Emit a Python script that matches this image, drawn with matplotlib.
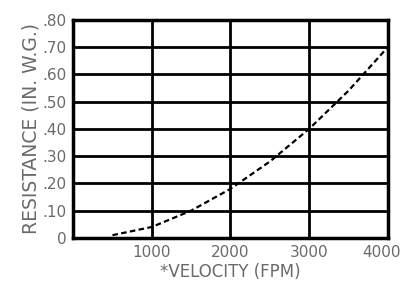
import matplotlib.pyplot as plt
import matplotlib.transforms as mtransforms

# datos
velocity = [500, 1000, 1500, 2000, 2500, 3000, 3500, 4000]
resistance = [0.01, 0.04, 0.10, 0.18, 0.28, 0.40, 0.54, 0.70]

x_ticks = [1000, 2000, 3000, 4000]
x_labels = ["1000", "2000", "3000", "4000"]
y_ticks = [0, 0.1, 0.2, 0.3, 0.4, 0.5, 0.6, 0.7, 0.8]
y_labels = ["0", ".10", ".20", ".30", ".40", ".50", ".60", ".70", ".80"]

TEXT_COLOR = "#6a6a6a"

fig = plt.figure(figsize=(4.04, 2.88), dpi=100)
ax = fig.add_axes([0.181, 0.174, 0.779, 0.757])

ax.plot(velocity, resistance, color="black", linewidth=1.6,
        linestyle=(0, (2.5, 1.5)))

ax.set_xlim(0, 4000)
ax.set_ylim(0, 0.8)
ax.set_xticks(x_ticks)
ax.set_xticklabels(x_labels)
ax.set_yticks(y_ticks)
ax.set_yticklabels(y_labels)

ax.grid(True, color="black", linewidth=2)
for s in ax.spines.values():
    s.set_linewidth(2.5)

ax.tick_params(length=0, pad=5, labelsize=11, colors=TEXT_COLOR)
for lbl in ax.get_xticklabels() + ax.get_yticklabels():
    lbl.set_color(TEXT_COLOR)

# la ultima etiqueta queda pegada al borde, se corre un poco a la izquierda
last = ax.get_xticklabels()[-1]
last.set_transform(last.get_transform() +
                   mtransforms.ScaledTranslation(-6 / 100, 0, fig.dpi_scale_trans))

ax.set_xlabel("*VELOCITY (FPM)", fontsize=12, color=TEXT_COLOR, labelpad=2)
ax.set_ylabel("RESISTANCE (IN. W.G.)", fontsize=13.5, color=TEXT_COLOR, labelpad=1)

fig.savefig("out.png", dpi=100)
plt.close(fig)
